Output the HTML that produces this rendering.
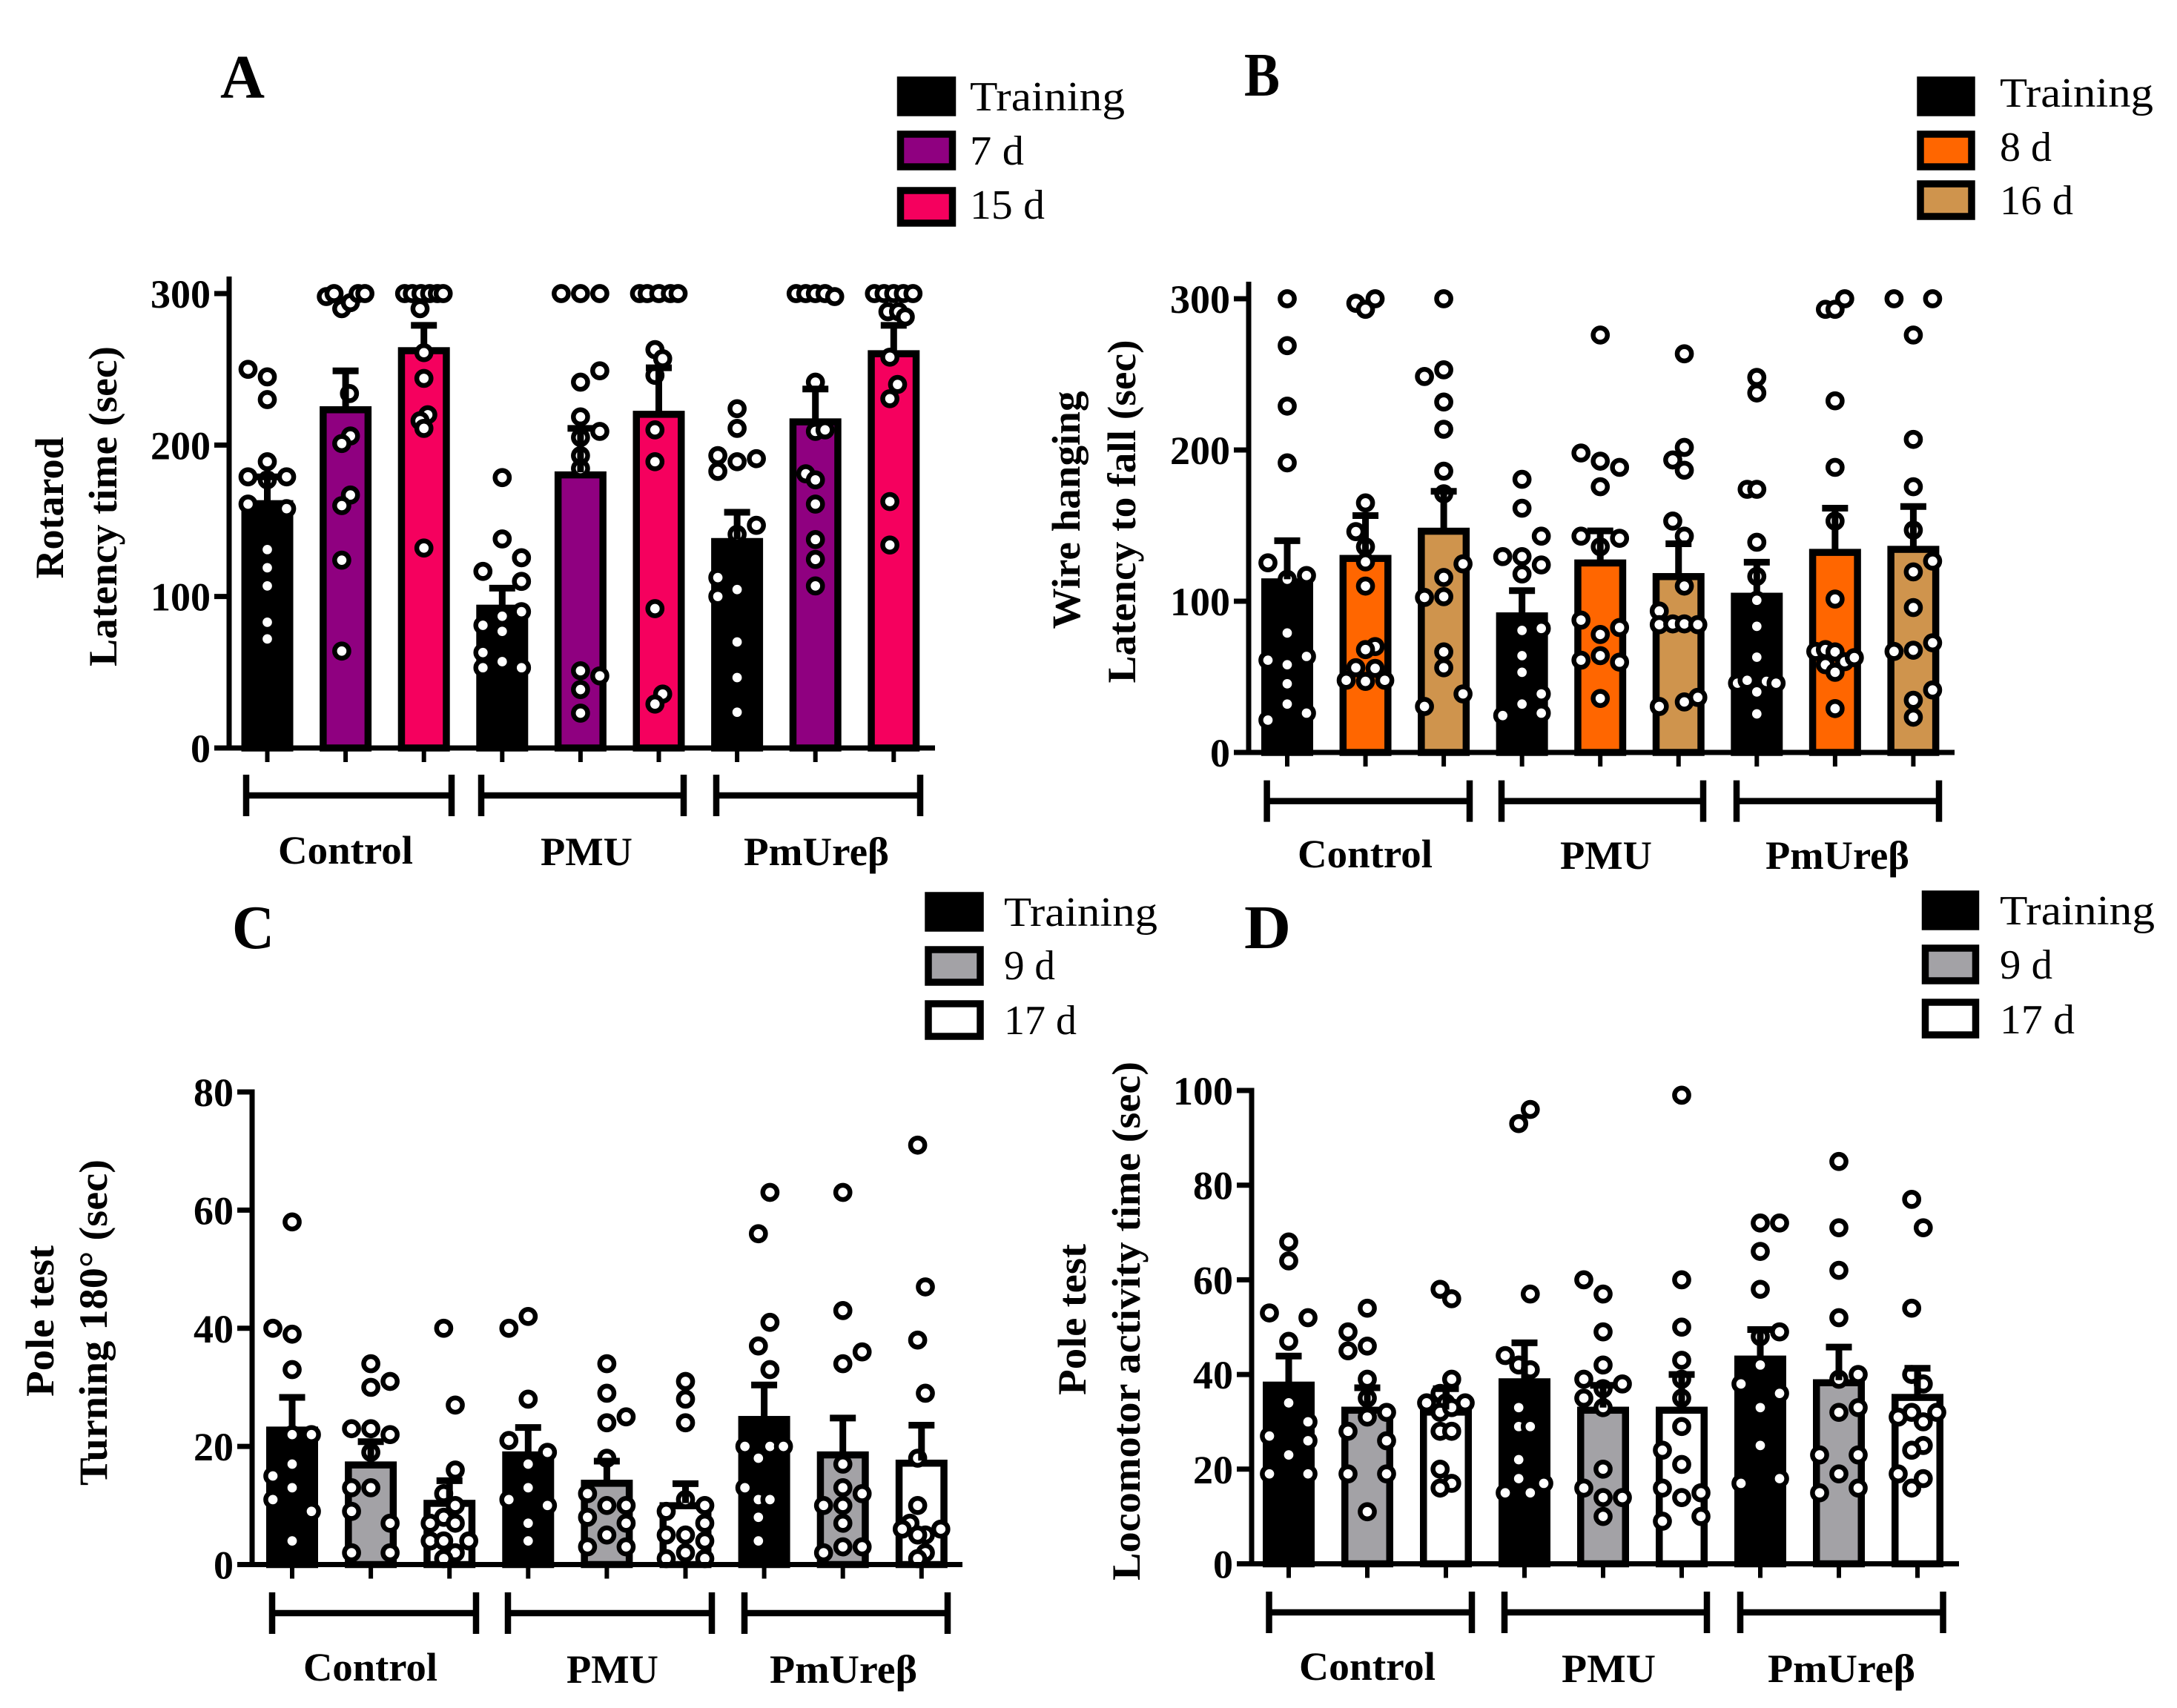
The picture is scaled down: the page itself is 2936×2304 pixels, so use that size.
<!DOCTYPE html>
<html lang="en">
<head>
<meta charset="utf-8">
<title>Behavioural test bar charts</title>
<style>
html,body{margin:0;padding:0;background:#fff}
svg{display:block}
text{font-family:"Liberation Serif","Noto Serif CJK SC",serif;fill:#000}
.b{font-weight:bold}
.g{font-weight:bold;font-size:54px}
.t{font-weight:bold;font-size:54px;text-anchor:middle}
.l{font-size:56px}
.p{font-weight:bold;font-size:84px}
.tick{font-weight:bold;font-size:54px;text-anchor:end}
</style>
</head>
<body>
<svg id="figure" xmlns="http://www.w3.org/2000/svg" width="2936" height="2304" viewBox="0 0 2936 2304">
<rect width="2936" height="2304" fill="#fff"/>

<text class="p" x="297" y="132" textLength="60" lengthAdjust="spacingAndGlyphs">A</text>
<text class="p" x="1678" y="129" textLength="48" lengthAdjust="spacingAndGlyphs">B</text>
<text class="p" x="313" y="1279" textLength="57" lengthAdjust="spacingAndGlyphs">C</text>
<text class="p" x="1678" y="1279" textLength="63" lengthAdjust="spacingAndGlyphs">D</text>

<text class="t" transform="translate(85,685) rotate(-90)" textLength="191" lengthAdjust="spacingAndGlyphs">Rotarod</text>
<text class="t" transform="translate(157,683) rotate(-90)" textLength="432" lengthAdjust="spacingAndGlyphs">Latency time (sec)</text>
<text class="t" transform="translate(1456,688) rotate(-90)" textLength="321" lengthAdjust="spacingAndGlyphs">Wire hanging</text>
<text class="t" transform="translate(1531,690) rotate(-90)" textLength="463" lengthAdjust="spacingAndGlyphs">Latency to fall (sec)</text>
<text class="t" transform="translate(72,1782) rotate(-90)" textLength="204" lengthAdjust="spacingAndGlyphs">Pole test</text>
<text class="t" transform="translate(144,1784) rotate(-90)" textLength="440" lengthAdjust="spacingAndGlyphs">Turning 180° (sec)</text>
<text class="t" transform="translate(1464,1780) rotate(-90)" textLength="204" lengthAdjust="spacingAndGlyphs">Pole test</text>
<text class="t" transform="translate(1537,1782) rotate(-90)" textLength="700" lengthAdjust="spacingAndGlyphs">Locomotor activity time (sec)</text>

<text class="g" x="375" y="1165" textLength="182" lengthAdjust="spacingAndGlyphs">Control</text>
<text class="g" x="729" y="1167" textLength="124" lengthAdjust="spacingAndGlyphs">PMU</text>
<text class="g" x="1003" y="1167" textLength="196" lengthAdjust="spacingAndGlyphs">PmUreβ</text>
<text class="g" x="1750" y="1170" textLength="182" lengthAdjust="spacingAndGlyphs">Control</text>
<text class="g" x="2104" y="1172" textLength="124" lengthAdjust="spacingAndGlyphs">PMU</text>
<text class="g" x="2381" y="1172" textLength="194" lengthAdjust="spacingAndGlyphs">PmUreβ</text>
<text class="g" x="409" y="2267" textLength="181" lengthAdjust="spacingAndGlyphs">Control</text>
<text class="g" x="764" y="2270" textLength="124" lengthAdjust="spacingAndGlyphs">PMU</text>
<text class="g" x="1038" y="2270" textLength="199" lengthAdjust="spacingAndGlyphs">PmUreβ</text>
<text class="g" x="1752" y="2266" textLength="184" lengthAdjust="spacingAndGlyphs">Control</text>
<text class="g" x="2106" y="2269" textLength="127" lengthAdjust="spacingAndGlyphs">PMU</text>
<text class="g" x="2384" y="2269" textLength="199" lengthAdjust="spacingAndGlyphs">PmUreβ</text>

<g>
<rect x="1214.5" y="108" width="70" height="44" fill="#000" stroke="#000" stroke-width="9.5"/>
<rect x="1214.5" y="181" width="70" height="44" fill="#8f0080" stroke="#000" stroke-width="9.5"/>
<rect x="1214.5" y="257" width="70" height="44" fill="#f5005e" stroke="#000" stroke-width="9.5"/>
<text class="l" x="1308" y="149" textLength="209" lengthAdjust="spacingAndGlyphs">Training</text>
<text class="l" x="1308" y="222" textLength="73" lengthAdjust="spacingAndGlyphs">7 d</text>
<text class="l" x="1308" y="295" textLength="101" lengthAdjust="spacingAndGlyphs">15 d</text>
</g>
<g>
<rect x="2590" y="108" width="69" height="44" fill="#000" stroke="#000" stroke-width="9.5"/>
<rect x="2590" y="181" width="69" height="44" fill="#ff6600" stroke="#000" stroke-width="9.5"/>
<rect x="2590" y="248" width="69" height="44" fill="#cf944d" stroke="#000" stroke-width="9.5"/>
<text class="l" x="2697" y="144" textLength="207" lengthAdjust="spacingAndGlyphs">Training</text>
<text class="l" x="2697" y="217" textLength="70" lengthAdjust="spacingAndGlyphs">8 d</text>
<text class="l" x="2697" y="289" textLength="99" lengthAdjust="spacingAndGlyphs">16 d</text>
</g>
<g>
<rect x="1252" y="1208" width="70" height="44" fill="#000" stroke="#000" stroke-width="9.5"/>
<rect x="1252" y="1281" width="70" height="44" fill="#a3a2a6" stroke="#000" stroke-width="9.5"/>
<rect x="1252" y="1354" width="70" height="44" fill="#fff" stroke="#000" stroke-width="9.5"/>
<text class="l" x="1354" y="1249" textLength="207" lengthAdjust="spacingAndGlyphs">Training</text>
<text class="l" x="1354" y="1321" textLength="69" lengthAdjust="spacingAndGlyphs">9 d</text>
<text class="l" x="1354" y="1395" textLength="98" lengthAdjust="spacingAndGlyphs">17 d</text>
</g>
<g>
<rect x="2596.5" y="1206" width="68" height="44" fill="#000" stroke="#000" stroke-width="9.5"/>
<rect x="2596.5" y="1279" width="68" height="44" fill="#a3a2a6" stroke="#000" stroke-width="9.5"/>
<rect x="2596.5" y="1352" width="68" height="44" fill="#fff" stroke="#000" stroke-width="9.5"/>
<text class="l" x="2697" y="1247" textLength="209" lengthAdjust="spacingAndGlyphs">Training</text>
<text class="l" x="2697" y="1320" textLength="71" lengthAdjust="spacingAndGlyphs">9 d</text>
<text class="l" x="2697" y="1394" textLength="101" lengthAdjust="spacingAndGlyphs">17 d</text>
</g>
</svg>
<script>
// ---------- Panel A: Rotarod ----------
const aTicks = [0, 100, 200, 300];
const aMeans = [163, 225, 264, 94, 182, 222, 138, 217, 262];
const aErrorTops = [179, 249, 279, 105.5, 211, 251, 155.6, 237, 279];
const aValues = [
  [250,245,230,189,179,179,177,161,158,131,119,107,83,72],
  [298,300,290,294,300,300,234,206,201,167,160,124,64],
  [300,300,300,300,300,300,290,261,244,220,216,211,132],
  [178.5,138,125.6,116.6,110,90,81,87,77,63,57,53,53],
  [300,300,300,249,241.5,218.6,209,205,193,184.5,51,47.6,38.6,23],
  [300,300,300,300,300,263,257,246,210,189,92,35.6,29],
  [224,211,193,189,191,182.6,147,141,112.5,104.6,100,70,46.5,23.6],
  [300,300,300,300,298,241.5,209,210,181,177,161,137.6,124.5,107],
  [300,300,300,300,300,288,288,284.6,258,240,230.6,162.7,134]
];
const aLanes = [
  [-1,0,0,0,-1,1,0,-1,1,0,0,0,0,0],
  [-1,-.6,-.2,.25,.65,1,.2,.25,-.2,.25,-.2,-.2,-.2],
  [-1,-.6,-.15,.3,.7,1,-.2,0,0,.2,-.2,0,0],
  [0,0,1,-1,1,1,-1,0,0,-1,0,-1,1],
  [-1,0,1,1,0,0,1,0,0,0,0,1,0,0],
  [-1,-.6,0,.6,1,-.2,.2,-.2,-.2,-.2,-.2,.2,-.2],
  [0,0,-1,0,1,-1,1,0,-1,0,-1,0,0,0],
  [-1,-.5,0,.5,1,0,0,.5,-.5,0,0,0,0,0],
  [-1,-.5,0,.5,1,-.3,.25,.6,-.2,.2,-.2,-.2,-.2]
];

// ---------- Panel B: Wire hanging ----------
const bTicks = [0, 100, 200, 300];
const bMeans = [114.5, 130, 148, 92, 127, 118, 105, 134, 136];
const bErrorTops = [140, 156.6, 172.7, 107, 146.5, 138, 125.8, 161.5, 162.6];
const bValues = [
  [300,269,229,191.5,125.4,117,114.5,79,61,63.5,58,45.4,32,26,21.4],
  [297,293,300,165,146,136,126,110,70,68,56,55.6,47.7,47,47.7],
  [300,253,248.6,231.7,213.7,186,171,124.7,115.7,102.5,103,66.5,56,38.7,30.4],
  [180.6,161.5,129.5,129.5,143,124,118,82,80.7,64,53,38.7,32,26,24.4],
  [276,198,192.6,188.5,175.7,143,141.6,136,87.5,82.6,78,61,64,59.7,35.7],
  [263.6,201.7,193.4,186.6,153,143,110,93.5,84.5,85,85,84.5,36.4,33.4,30.4],
  [248,237.7,174,174,139,116.4,100.6,83.4,63,45.8,47.7,47,45.8,40,25.5],
  [300,293,293,232.5,188.5,153,101.4,66.8,68,66.5,58,53,60,62.7,29],
  [300,300,276,207,175.7,147,126.5,119.4,95.8,66.8,67.6,72.5,41.3,34.5,23.3]
];
const bLanes = [
  [0,0,0,0,-1,1,0,0,-1,1,0,0,0,1,-1],
  [-.5,0,.5,0,-.5,0,0,0,.5,0,-.5,.5,-1,0,1],
  [0,0,-1,0,0,0,0,1,0,-1,0,0,0,1,-1],
  [0,0,-1,0,1,1,0,1,0,0,0,1,0,1,-1],
  [0,-1,0,1,0,-1,1,0,-1,1,0,-1,0,1,0],
  [.3,.3,-.3,.3,-.3,.3,.3,-1,-1,-.3,.3,1,1,.3,-1],
  [0,0,-.5,0,0,0,0,0,0,-1,-.5,.5,1,0,0],
  [.5,-.5,0,0,0,0,0,-1,-.5,0,-.5,0,.5,1,0],
  [-1,1,0,0,0,0,1,0,0,-1,0,1,1,0,0]
];

// ---------- Panel C: Pole test, turning ----------
const cTicks = [0, 20, 40, 60, 80];
const cMeans = [23.2, 17.3, 10.8, 19, 14.2, 10.4, 25, 19, 17.6];
const cErrorTops = [28.3, 20.8, 14.2, 23.2, 17.5, 13.7, 30.4, 24.8, 23.6];
const cValues = [
  [58,40,39,33,22,22,17,15,13,11,9,4],
  [34,31,30,23,23,22,19,13,13,9,7,2,2],
  [40,27,16,12,10,8,7,7,4,4,4,2,1],
  [42,40,28,21,19,17,13,11,10,7,4],
  [34,29,25,24,18,12,10,10,8,7,5,3,3],
  [31,28,24,11,10,9,7,5,5,4,2,1,1],
  [63,56,41,37,33,20,20,20,18,13,11,11,8,4],
  [63,43,36,34,17,13,12,10,10,7,3,3,2],
  [71,47,38,29,18,10,7,6,6,5,5,2,1]
];
const cLanes = [
  [0,-1,0,0,0,1,0,-1,0,-1,1,0],
  [0,1,0,-1,0,1,0,-1,0,-1,1,-1,1],
  [-.3,.3,.3,-.3,.3,-.3,-1,.3,-1,-.3,1,.3,-.3],
  [0,-1,0,-1,1,0,0,-1,1,0,0],
  [0,0,1,0,0,-1,0,1,-1,1,0,-1,1],
  [0,0,0,0,1,-1,1,-1,0,1,0,-1,1],
  [.3,-.3,.3,-.3,.3,-1,.3,1,-.3,-1,-.3,.3,-.3,-.3],
  [0,0,1,0,0,0,1,-1,0,0,0,1,-1],
  [-.2,.2,-.2,.2,-.2,-.2,-.6,-1,1,.2,-.2,.2,-.2]
];

// ---------- Panel D: Pole test, locomotor ----------
const dTicks = [0, 20, 40, 60, 80, 100];
const dMeans = [38.3, 33, 32.6, 39, 33, 33, 43.8, 38.8, 35.7];
const dErrorTops = [43.9, 37.2, 37, 46.7, 37.7, 40, 49.5, 45.8, 41.3];
const dValues = [
  [68,64,53,52,47,34,30,27,26,23,19,19],
  [54,49,46,45,39,35,32,31,28,26,19,19,11],
  [58,56,39,36,34,34,34,32,33,28,28,20,17,16],
  [96,93,57,44,42,41,33,29,29,22,18,17,15,15],
  [60,57,49,42,39,38,37,35,33,20,16,14,14,10],
  [99,60,50,43,39,35,29,24,21,16,15,14,10,9],
  [72,72,66,58,49,48,42,38,36,33,25,18,17],
  [85,71,62,52,40,39,33,32,23,23,19,16,15],
  [77,71,54,40,38,32,32,31,30,25,24,19,18,16]
];
const dLanes = [
  [0,0,-1,1,0,0,1,-1,1,0,-1,1],
  [0,-1,0,-1,0,0,1,0,-1,1,-1,1,0],
  [-.3,.3,.3,-.3,-1,1,0,-.3,.3,-.3,.3,-.3,.3,-.3],
  [.3,-.3,.3,-1,-.3,.3,-.3,-.3,.3,-.3,-.3,1,-1,.3],
  [-1,0,0,0,-1,1,0,-1,0,0,-1,0,1,0],
  [0,0,0,0,0,0,0,-1,0,-1,1,0,1,-1],
  [0,1,0,0,1,0,0,-1,1,0,0,1,-1],
  [0,0,0,0,1,0,1,0,-1,1,0,1,-1],
  [-.3,.3,-.3,-.3,.3,1,-.3,-1,.3,.3,-.3,-1,.3,-.3]
];

const NS = 'http://www.w3.org/2000/svg';
const root = document.getElementById('figure');

function mk(parent, tag, attrs) {
  const el = document.createElementNS(NS, tag);
  for (const k in attrs) el.setAttribute(k, attrs[k]);
  parent.appendChild(el);
  return el;
}

function drawPanel(p) {
  const yPx = v => p.y0 + (p.yMaxPx - p.y0) * (v / p.yMax);
  const xPx = i => p.x0 + p.step * i;
  const laneUnit = 26;
  const barInset = 3.5;

  const g = mk(root, 'g', {});
  
  

  p.means.forEach((m, i) => {
    const fill = i % 3 === 0 ? '#000' : p.fills[(i % 3) - 1];
    const cx = xPx(i);
    const top = yPx(m) + barInset;
    const bar = mk(g, 'rect', {x: cx - 30.25, y: top, width: 60.5, height: p.y0 - top, fill: fill, stroke: '#000', 'stroke-width': 9.5});
    
    
  });

  p.values.forEach((vals, i) => {
    vals.forEach((v, j) => {
      const dot = mk(g, 'circle', {cx: xPx(i) + p.lanes[i][j] * laneUnit, cy: yPx(v), r: 9.6, fill: '#fff', stroke: '#000', 'stroke-width': 6.5});
      
      
    });
  });

  p.errorTops.forEach((e, i) => {
    const cx = xPx(i);
    const stem = mk(g, 'line', {x1: cx, x2: cx, y1: yPx(p.means[i]), y2: yPx(e), stroke: '#000', 'stroke-width': 9});
    
    
    const cap = mk(g, 'line', {x1: cx - 17.5, x2: cx + 17.5, y1: yPx(e), y2: yPx(e), stroke: '#000', 'stroke-width': 9});
    
    
  });

  const yAxis = mk(g, 'line', {x1: p.axisX, x2: p.axisX, y1: p.axisTop, y2: p.y0 + 3.5, stroke: '#000', 'stroke-width': 7});
  
  
  const xAxis = mk(g, 'line', {x1: p.axisX - 20, x2: p.axisRight, y1: p.y0, y2: p.y0, stroke: '#000', 'stroke-width': 7});
  
  

  p.ticks.forEach(t => {
    const y = yPx(t);
    const tick = mk(g, 'line', {x1: p.axisX - 20, x2: p.axisX, y1: y, y2: y, stroke: '#000', 'stroke-width': 7});
    
    
    const label = mk(g, 'text', {x: p.axisX - 25, y: y + 19, class: 'tick'});
    label.textContent = String(t);
    
    
  });

  p.means.forEach((m, i) => {
    const cx = xPx(i);
    const tick = mk(g, 'line', {x1: cx, x2: cx, y1: p.y0, y2: p.y0 + 19, stroke: '#000', 'stroke-width': 6});
    
    
  });

  p.brackets.forEach(b => {
    const line = mk(g, 'path', {
      d: 'M' + b[0] + ' ' + (p.bracketY - 28) + 'V' + (p.bracketY + 28) +
         'M' + b[0] + ' ' + p.bracketY + 'H' + b[1] +
         'M' + b[1] + ' ' + (p.bracketY - 28) + 'V' + (p.bracketY + 28),
      fill: 'none', stroke: '#000', 'stroke-width': 8.5
    });
    
    
  });
}

drawPanel({id:'a', ticks:aTicks, means:aMeans, errorTops:aErrorTops, values:aValues, lanes:aLanes,
  yMax:300, y0:1009, yMaxPx:396, axisX:309, axisTop:373, axisRight:1261, x0:360.5, step:105.6,
  fills:['#8f0080','#f5005e'], bracketY:1073, brackets:[[332,609],[649,922],[966,1241]]});
drawPanel({id:'b', ticks:bTicks, means:bMeans, errorTops:bErrorTops, values:bValues, lanes:bLanes,
  yMax:300, y0:1015, yMaxPx:403, axisX:1684, axisTop:380, axisRight:2636, x0:1736, step:105.55,
  fills:['#ff6600','#cf944d'], bracketY:1080.6, brackets:[[1708.6,1982],[2025,2297],[2342,2615]]});
drawPanel({id:'c', ticks:cTicks, means:cMeans, errorTops:cErrorTops, values:cValues, lanes:cLanes,
  yMax:80, y0:2110.5, yMaxPx:1473, axisX:340, axisTop:1469.5, axisRight:1298, x0:394, step:106.1,
  fills:['#a3a2a6','#fff'], bracketY:2176, brackets:[[367,642],[685,960],[1004,1278]]});
drawPanel({id:'d', ticks:dTicks, means:dMeans, errorTops:dErrorTops, values:dValues, lanes:dLanes,
  yMax:100, y0:2109.5, yMaxPx:1471, axisX:1688, axisTop:1467.5, axisRight:2642, x0:1738, step:106,
  fills:['#a3a2a6','#fff'], bracketY:2175, brackets:[[1711.5,1985],[2029,2302],[2347,2620.5]]});
</script>
</body>
</html>
